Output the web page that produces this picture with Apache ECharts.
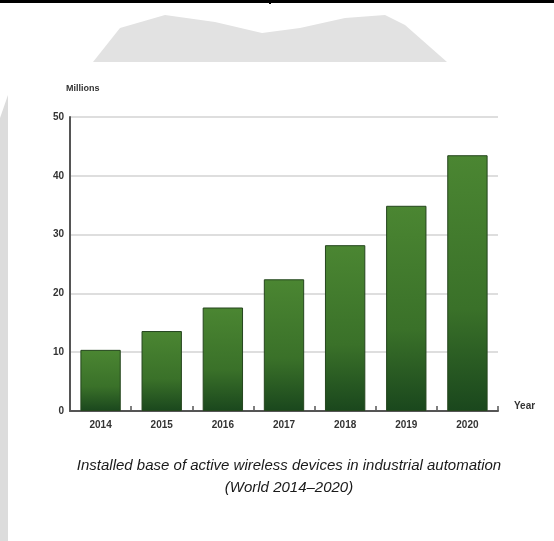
<!DOCTYPE html>
<html>
<head>
<meta charset="utf-8">
<script src="https://cdn.jsdelivr.net/npm/echarts@6/dist/echarts.min.js"></script>
<style>
  html, body { margin: 0; padding: 0; background: #fff; }
  #chart { width: 554px; height: 541px; }
</style>
</head>
<body>
<div id="chart"></div>
<script>
// data
const years = ['2014', '2015', '2016', '2017', '2018', '2019', '2020'];
const devices = [10.4, 13.6, 17.6, 22.4, 28.2, 34.9, 43.5];
const yTicks = [0, 10, 20, 30, 40, 50];

const chart = echarts.init(document.getElementById('chart'));

const barFill = new echarts.graphic.LinearGradient(0, 0, 0, 1, [
  { offset: 0, color: '#4b8632' },
  { offset: 0.6, color: '#3a7129' },
  { offset: 1, color: '#1a471d' }
]);

chart.setOption({
  backgroundColor: '#fff',
  animation: false,
  grid: { left: 70, right: 56, top: 117, bottom: 130 },
  xAxis: {
    type: 'category',
    data: years,
    name: 'Year',
    nameGap: 16,
    nameTextStyle: { color: '#333', fontSize: 10, fontWeight: 'bold', verticalAlign: 'bottom', padding: [0, 0, 0, 0], fontFamily: 'Liberation Sans' },
    axisLine: { lineStyle: { color: '#555', width: 2 } },
    axisTick: { show: true, inside: true, length: 5, lineStyle: { color: '#555', width: 1.5 } },
    axisLabel: { color: '#333', fontSize: 10, fontWeight: 'bold', margin: 9, fontFamily: 'Liberation Sans' }
  },
  yAxis: {
    type: 'value',
    min: 0,
    max: 50,
    interval: 10,
    name: 'Millions',
    nameGap: 24,
    nameTextStyle: { color: '#333', fontSize: 9, fontWeight: 'bold', align: 'left', padding: [0, 0, 0, -4], fontFamily: 'Liberation Sans' },
    axisLine: { show: true, lineStyle: { color: '#555', width: 2 } },
    axisTick: { show: false },
    axisLabel: {
      color: '#333', fontSize: 10, fontWeight: 'bold', margin: 6, fontFamily: 'Liberation Sans',
      formatter: v => (yTicks.indexOf(v) >= 0 ? String(v) : '')
    },
    splitLine: { lineStyle: { color: '#dedede', width: 2 } }
  },
  series: [{
    type: 'bar',
    data: devices,
    barCategoryGap: '34%',
    itemStyle: { color: barFill, borderColor: '#24451d', borderWidth: 1 }
  }],
  graphic: [
    // table border at the top
    { type: 'rect', shape: { x: 0, y: 0, width: 554, height: 3 }, style: { fill: '#000' } },
    { type: 'rect', shape: { x: 269, y: 0, width: 2, height: 4 }, style: { fill: '#000' } },
    // faded watermark shapes
    {
      type: 'polygon', silent: true, z: -1,
      shape: { points: [[93, 62], [120, 28], [165, 15], [215, 22], [262, 33], [300, 28], [345, 18], [385, 15], [405, 25], [447, 62]] },
      style: { fill: '#e2e2e2' }
    },
    {
      type: 'polygon', silent: true, z: -1,
      shape: { points: [[0, 118], [8, 95], [8, 541], [0, 541]] },
      style: { fill: '#dcdcdc' }
    },
    // caption
    {
      type: 'text', x: 289, y: 458,
      style: {
        text: 'Installed base of active wireless devices in industrial automation',
        textAlign: 'center',
        fill: '#1a1a1a', font: 'italic 15px "Liberation Sans", Arial, sans-serif'
      }
    },
    {
      type: 'text', x: 289, y: 480,
      style: {
        text: '(World 2014\u20132020)',
        textAlign: 'center',
        fill: '#1a1a1a', font: 'italic 15px "Liberation Sans", Arial, sans-serif'
      }
    }
  ]
});
</script>
</body>
</html>
